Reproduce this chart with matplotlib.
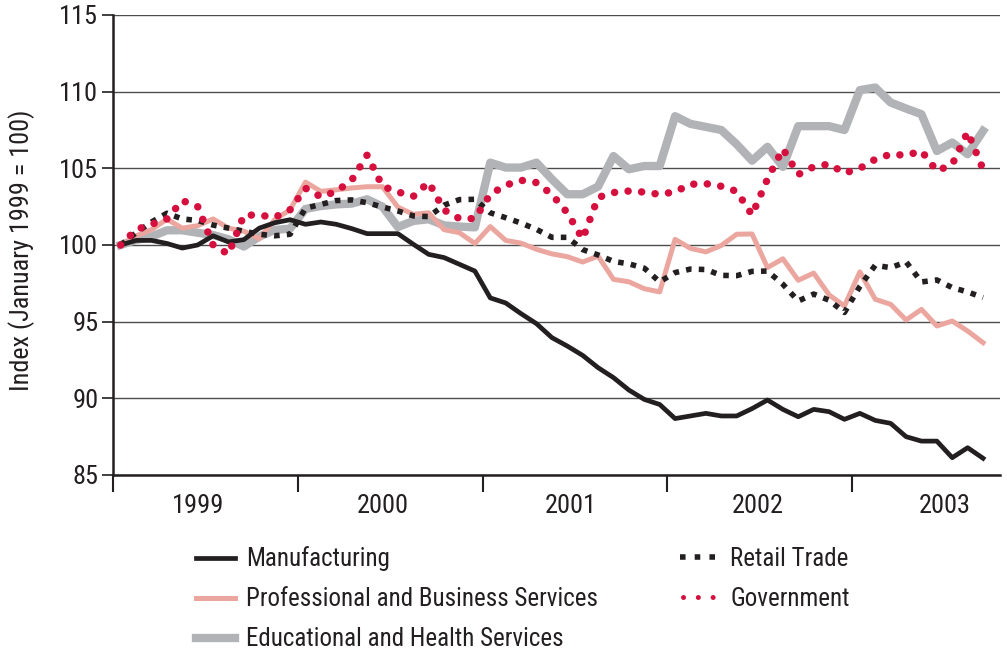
import matplotlib
matplotlib.use('Agg')
import matplotlib.pyplot as plt
from matplotlib.lines import Line2D
from matplotlib import font_manager
import numpy as np

# ---------------- data ----------------
months = np.arange(57)  # Jan 1999 .. Sep 2003

manufacturing = [100.0, 100.3, 100.3, 100.1, 99.8, 100.0, 100.6, 100.2, 100.35, 101.1,
                 101.45, 101.65, 101.35, 101.5, 101.35, 101.07, 100.74, 100.74, 100.74, 100.05,
                 99.39, 99.18, 98.74, 98.3, 96.55, 96.22, 95.52, 94.87, 93.96, 93.41,
                 92.8, 92.0, 91.35, 90.54, 89.93, 89.6, 88.68, 88.85, 89.02, 88.85,
                 88.85, 89.33, 89.89, 89.28, 88.8, 89.28, 89.13, 88.63, 89.02, 88.56,
                 88.37, 87.5, 87.21, 87.21, 86.13, 86.78, 86.09]

prof_business = [100.0, 100.6, 101.0, 101.68, 101.1, 101.26, 101.7, 101.1, 100.9, 100.4,
                 101.65, 102.3, 104.1, 103.5, 103.6, 103.72, 103.8, 103.8, 102.47, 102.0,
                 102.1, 101.0, 100.8, 100.1, 101.2, 100.3, 100.12, 99.72, 99.42, 99.24,
                 98.89, 99.27, 97.76, 97.6, 97.15, 96.94, 100.37, 99.78, 99.55, 99.97,
                 100.7, 100.72, 98.53, 99.1, 97.7, 98.17, 96.75, 96.02, 98.25, 96.46,
                 96.13, 95.11, 95.8, 94.72, 95.04, 94.39, 93.63]

edu_health = [100.0, 100.33, 100.55, 100.96, 100.96, 100.8, 100.65, 100.37, 99.9, 100.55,
              100.98, 101.07, 102.35, 102.54, 102.65, 102.7, 102.98, 102.5, 101.17, 101.57,
              101.68, 101.28, 101.2, 101.15, 105.37, 105.05, 105.05, 105.37, 104.29, 103.31,
              103.31, 103.81, 105.8, 104.94, 105.15, 105.15, 108.4, 107.9, 107.7, 107.5,
              106.57, 105.5, 106.4, 105.1, 107.75, 107.75, 107.75, 107.5, 110.1, 110.27,
              109.29, 108.9, 108.53, 106.13, 106.68, 105.92, 107.44]

retail_trade = [100.0, 100.8, 101.5, 102.07, 101.7, 101.6, 101.3, 101.1, 100.9, 100.7,
                100.6, 100.7, 102.4, 102.65, 102.9, 102.94, 102.76, 102.48, 102.22, 101.9,
                101.85, 102.6, 102.96, 102.98, 102.1, 101.78, 101.43, 101.02, 100.5, 100.5,
                99.7, 99.35, 98.93, 98.77, 98.49, 97.6, 98.2, 98.43, 98.4, 98.02,
                98.0, 98.28, 98.3, 97.44, 96.35, 96.8, 96.4, 95.6, 97.3, 98.68,
                98.52, 98.9, 97.59, 97.72, 97.22, 96.94, 96.57]

government = [100.0, 101.0, 101.35, 101.7, 102.9, 102.5, 100.0, 99.4, 101.95, 101.95,
              101.8, 102.3, 103.7, 103.14, 103.5, 104.22, 105.86, 103.83, 103.46, 103.17,
              104.09, 102.28, 101.72, 101.72, 103.3, 103.9, 104.22, 104.07, 103.3, 102.1,
              100.4, 103.1, 103.42, 103.52, 103.45, 103.3, 103.47, 103.96, 104.0, 103.83,
              103.5, 101.96, 104.3, 106.27, 104.6, 105.1, 105.28, 104.69, 105.0, 105.59,
              105.92, 105.85, 106.13, 104.83, 105.26, 107.37, 104.94]

year_labels = ['1999', '2000', '2001', '2002', '2003']
y_ticks = [85, 90, 95, 100, 105, 110, 115]
series_names = ['Manufacturing', 'Professional and Business Services',
                'Educational and Health Services', 'Retail Trade', 'Government']

# ---------------- fonts ----------------
available = {f.name for f in font_manager.fontManager.ttflist}
fam = None
for cand in ['Liberation Sans Narrow', 'Roboto Condensed', 'Open Sans Condensed',
             'DejaVu Sans Condensed', 'Liberation Sans']:
    if cand in available:
        fam = cand
        break
plt.rcParams['font.family'] = [fam, 'DejaVu Sans'] if fam else ['DejaVu Sans']

# ---------------- styles ----------------
c_black = '#231f20'
c_pink = '#eba79f'
c_gray = '#b1b3b6'
c_red = '#d5103f'
text_c = '#231f20'

fig = plt.figure(figsize=(10.07, 6.52), dpi=100)
ax = fig.add_axes([113 / 1007, 1 - 475 / 652, (1000 - 113) / 1007, (475 - 15) / 652])

ax.plot(months, edu_health, color=c_gray, lw=6.0, zorder=2)
ax.plot(months, prof_business, color=c_pink, lw=3.6, zorder=3)
ax.plot(months, manufacturing, color=c_black, lw=3.4, zorder=4)
ax.plot(months, retail_trade, color=c_black, lw=4.0, linestyle=(0, (1, 1.3)),
        dash_capstyle='butt', zorder=5)
ax.plot(months, government, color=c_red, lw=5.4, linestyle=(0, (0.01, 1.8)),
        dash_capstyle='round', zorder=6)

ax.set_xlim(-0.5, 57.1)
ax.set_ylim(85, 115)
ax.set_yticks(y_ticks)
ax.set_yticklabels([str(v) for v in y_ticks])
ax.yaxis.grid(True, color='#4d4d4d', lw=1.0)
ax.set_axisbelow(True)

ax.set_xticks([-0.5, 11.5, 23.5, 35.5, 47.5])
ax.set_xticklabels([])
ax.set_xticks([5.0, 17.0, 29.2, 41.35, 53.5], minor=True)
ax.set_xticklabels(year_labels, minor=True)
ax.tick_params(axis='x', which='major', direction='out', length=12, width=1.5, color=c_black)
ax.tick_params(axis='x', which='minor', length=0, pad=14, labelsize=19, labelcolor=text_c)
ax.tick_params(axis='y', direction='out', length=8, width=1.2, pad=2.5, labelsize=19,
               labelcolor=text_c, color=c_black)

for s in ['top', 'right']:
    ax.spines[s].set_visible(False)
for s in ['left', 'bottom']:
    ax.spines[s].set_color(c_black)
    ax.spines[s].set_linewidth(1.8)

fig.text(22 / 1007, 1 - 250 / 652, 'Index (January 1999 = 100)', rotation=90,
         ha='center', va='center', fontsize=18.8, color=text_c)

# ---------------- legend ----------------
h_manuf = Line2D([], [], color=c_black, lw=3.4)
h_prof = Line2D([], [], color=c_pink, lw=3.6)
h_edu = Line2D([], [], color=c_gray, lw=6.0)
h_retail = Line2D([], [], color=c_black, lw=4.0, linestyle=(0, (1, 1.65)), dash_capstyle='butt')
h_gov = Line2D([], [], color=c_red, lw=3.6, linestyle=(-0.6, (0.01, 2.95)), dash_capstyle='round')

common = dict(frameon=False, fontsize=18, handlelength=1.56, handletextpad=0.44,
              labelspacing=0.64, borderpad=0, borderaxespad=0,
              bbox_transform=fig.transFigure, loc='upper left')
leg1 = ax.legend([h_manuf, h_prof, h_edu], series_names[:3],
                 bbox_to_anchor=(196 / 1007, 1 - 546.5 / 652), **common)
for t in leg1.get_texts():
    t.set_color(text_c)
ax.add_artist(leg1)
leg2 = ax.legend([h_retail, h_gov], series_names[3:],
                 bbox_to_anchor=(680 / 1007, 1 - 546.5 / 652), **common)
for t in leg2.get_texts():
    t.set_color(text_c)

fig.savefig('out.png', dpi=100)
